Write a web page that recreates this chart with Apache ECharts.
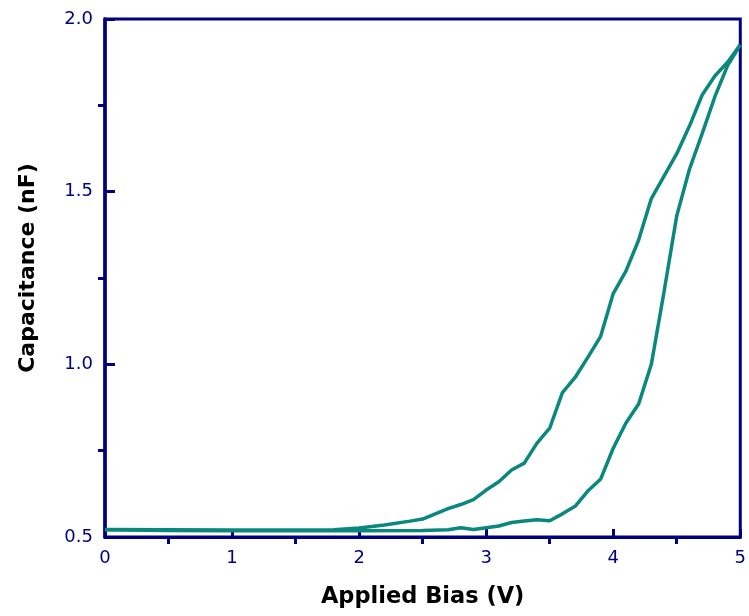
<!DOCTYPE html>
<html lang="en">
<head>
<meta charset="UTF-8" />
<script src="https://cdn.jsdelivr.net/npm/echarts@6/dist/echarts.min.js"></script>
<style>
html,body{margin:0;padding:0;background:#fff;}
#main{width:749px;height:616px;}
</style>
</head>
<body>
<div id="main"></div>
<script type="text/javascript">
// bias (V) and capacitance (nF), two sweep branches
var biasUp = [0, 0.5, 1.0, 1.5, 1.8, 2.0, 2.2, 2.4, 2.5, 2.6, 2.7, 2.8, 2.9, 3.0, 3.1, 3.2, 3.3, 3.4, 3.5, 3.6, 3.7, 3.8, 3.9, 4.0, 4.1, 4.2, 4.3, 4.4, 4.5, 4.6, 4.7, 4.8, 4.9, 5.0];
var capUp  = [0.522, 0.521, 0.520, 0.520, 0.521, 0.526, 0.535, 0.546, 0.552, 0.567, 0.582, 0.594, 0.608, 0.636, 0.660, 0.694, 0.714, 0.772, 0.815, 0.918, 0.962, 1.02, 1.08, 1.205, 1.27, 1.36, 1.48, 1.545, 1.61, 1.69, 1.78, 1.835, 1.875, 1.925];
var biasLow = [0, 0.5, 1.0, 1.5, 2.0, 2.5, 2.7, 2.8, 2.9, 3.0, 3.1, 3.2, 3.3, 3.4, 3.5, 3.6, 3.7, 3.8, 3.9, 4.0, 4.1, 4.2, 4.3, 4.4, 4.5, 4.6, 4.7, 4.8, 4.9, 5.0];
var capLow  = [0.521, 0.519, 0.518, 0.518, 0.518, 0.519, 0.521, 0.527, 0.522, 0.527, 0.532, 0.542, 0.546, 0.550, 0.547, 0.567, 0.589, 0.633, 0.667, 0.757, 0.830, 0.885, 1.0, 1.21, 1.43, 1.565, 1.668, 1.775, 1.865, 1.925];

function pairs(xs, ys){
	var out = [];
	for(var i=0;i<xs.length;i++){ out.push([xs[i], ys[i]]); }
	return out;
}

var navy = '#000080';
var teal = '#0a887e';

var myChart = echarts.init(document.getElementById('main'));
myChart.setOption({
	animation:false,
	backgroundColor:'#ffffff',
	grid:{left:105, right:8, top:19, bottom:79, show:true, borderColor:navy, borderWidth:3},
	xAxis:{
		type:'value', min:0, max:5, interval:1,
		name:'Applied Bias (V)', nameLocation:'middle', nameGap:49,
		nameTextStyle:{color:'#000', fontSize:22.5, fontWeight:'bold', fontFamily:'DejaVu Sans'},
		axisLine:{lineStyle:{color:navy, width:3}},
		axisTick:{inside:true, length:8, lineStyle:{color:navy, width:3}},
		minorTick:{show:true, splitNumber:2, length:-7, lineStyle:{color:navy, width:3}},
		axisLabel:{color:navy, fontSize:18, margin:12, fontFamily:'DejaVu Sans'},
		splitLine:{show:false}
	},
	yAxis:{
		type:'value', min:0.5, max:2.0, interval:0.5,
		name:'Capacitance (nF)', nameLocation:'middle', nameGap:66,
		nameTextStyle:{color:'#000', fontSize:22, fontWeight:'bold', fontFamily:'DejaVu Sans', padding:[0,0,0,20]},
		axisLine:{lineStyle:{color:navy, width:3.5}},
		axisTick:{inside:true, length:10, lineStyle:{color:navy, width:3}},
		minorTick:{show:true, splitNumber:2, length:-7, lineStyle:{color:navy, width:3}},
		axisLabel:{color:navy, fontSize:18, margin:12, fontFamily:'DejaVu Sans', formatter:function(v){return v.toFixed(1);}},
		splitLine:{show:false}
	},
	series:[
		{type:'line', data:pairs(biasUp, capUp), showSymbol:false, lineStyle:{color:teal, width:3.5}},
		{type:'line', data:pairs(biasLow, capLow), showSymbol:false, lineStyle:{color:teal, width:3.5}}
	]
});
</script>
</body>
</html>
